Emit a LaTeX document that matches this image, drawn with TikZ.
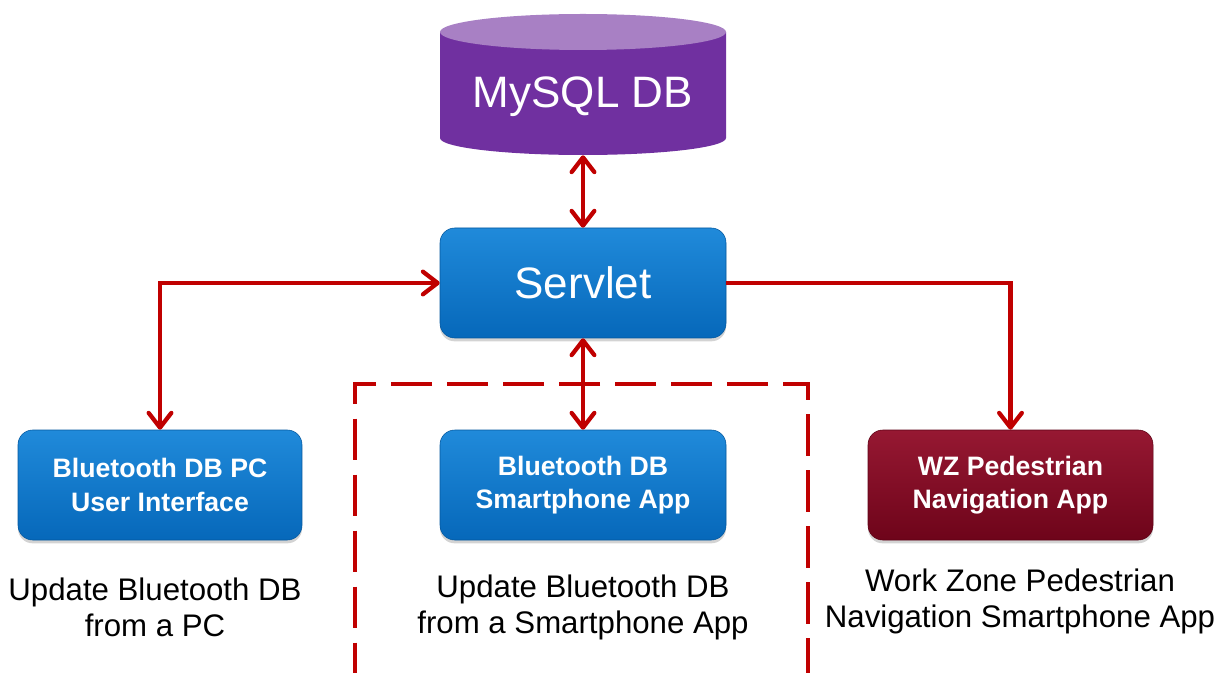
\documentclass[tikz,border=0pt]{standalone}
\usepackage{fontspec}
\setmainfont{Liberation Sans}
\usetikzlibrary{arrows.meta,shadows}
\definecolor{cred}{RGB}{192,0,0}
\definecolor{dbbody}{RGB}{112,48,160}
\definecolor{dbtop}{RGB}{168,128,196}
\definecolor{bluetop}{RGB}{32,138,218}
\definecolor{bluemid}{RGB}{10,120,206}
\definecolor{bluebot}{RGB}{6,104,186}
\definecolor{redtop}{RGB}{150,24,50}
\definecolor{redmid}{RGB}{128,8,34}
\definecolor{redbot}{RGB}{110,4,26}
\tikzset{
  box/.style={rounded corners=11pt, minimum height=82.5pt, align=center,
    text=white, font=\bfseries\fontsize{20pt}{25pt}\selectfont,
    drop shadow={opacity=0.35, shadow xshift=0pt, shadow yshift=-2.5pt}},
  bluebox/.style={box, top color=bluetop, middle color=bluemid, bottom color=bluebot, draw=bluebot!85!black, line width=0.4pt},
  redbox/.style={box, top color=redtop, middle color=redmid, bottom color=redbot, draw=redbot!85!black, line width=0.4pt},
  caption/.style={align=center, font=\fontsize{23.4pt}{27pt}\selectfont},
  conn/.style={draw=cred, line width=3.2pt,
    arrows={Straight Barb[length=11pt,width=17pt,round]-Straight Barb[length=11pt,width=17pt,round]}},
  connone/.style={draw=cred, line width=3.2pt,
    arrows={-Straight Barb[length=11pt,width=17pt,round]}},
  groupbox/.style={draw=cred, line width=3pt, dash pattern=on 31pt off 11pt,
    minimum width=339.75pt, minimum height=218.25pt}
}
\begin{document}
\begin{tikzpicture}[x=0.75pt,y=-0.75pt]
\useasboundingbox (0,0) rectangle (1220,673);
% database cylinder
\fill[dbbody] (440,32) -- (440,138) arc[start angle=180,end angle=360,x radius=107.25pt,y radius=12.75pt] -- (726,32) -- cycle;
\fill[dbtop] (583,32) ellipse[x radius=107.25pt,y radius=13.5pt];
\node[minimum width=214.5pt, minimum height=105.75pt, inner sep=0pt] (db) at (583,84.5) {};
\node[text=white, font=\fontsize{33pt}{38pt}\selectfont] (dblabel) at (583,97) {MySQL DB};
% servlet
\node[bluebox, minimum width=214.5pt, font=\fontsize{33pt}{38pt}\selectfont] (servlet) at (583,283) {Servlet};
% group frame
\node[groupbox] (grp) at (581.5,529) {};
% bottom boxes
\node[bluebox, minimum width=213pt] (left) at (160,485) {Bluetooth DB PC\\User Interface};
\node[bluebox, minimum width=214.5pt] (mid) at (583,485) {Bluetooth DB\\Smartphone App};
\node[redbox, minimum width=213.75pt] (right) at (1010.5,485) {WZ Pedestrian\\Navigation App};
% captions
\node[caption] (leftcap) at (155,607) {Update Bluetooth DB\\from a PC};
\node[caption] (midcap) at (583,607) {Update Bluetooth DB\\from a Smartphone App};
\node[caption] (rightcap) at (1020,601) {Work Zone Pedestrian\\Navigation Smartphone App};
% connectors
\draw[conn] (db.south) -- (servlet.north);
\draw[conn] (servlet.south) -- (mid.north);
\draw[conn] (left.north) |- (servlet.west);
\draw[connone] (servlet.east) -| (right.north);
\end{tikzpicture}
\end{document}
